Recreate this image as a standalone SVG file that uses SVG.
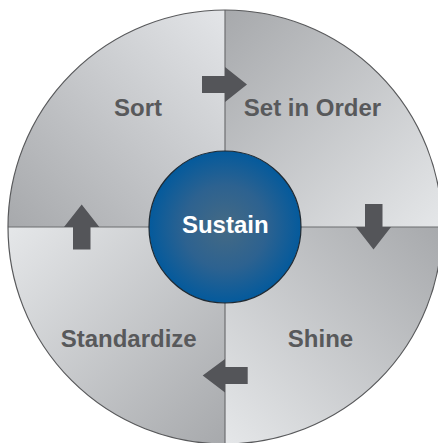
<svg xmlns="http://www.w3.org/2000/svg" width="438" height="443" viewBox="0 0 438 443">
<defs>
<linearGradient id="gSort" x1="1" y1="0" x2="0" y2="1"><stop offset="0" stop-color="#e3e5e8"/><stop offset="1" stop-color="#a7a9ac"/></linearGradient>
<linearGradient id="gSet" x1="0" y1="0" x2="1" y2="1"><stop offset="0" stop-color="#a7a9ac"/><stop offset="1" stop-color="#e5e7e9"/></linearGradient>
<linearGradient id="gShine" x1="1" y1="0" x2="0" y2="1"><stop offset="0" stop-color="#a7a9ac"/><stop offset="1" stop-color="#e5e7e9"/></linearGradient>
<linearGradient id="gStd" x1="0" y1="0" x2="1" y2="1"><stop offset="0" stop-color="#e5e7e9"/><stop offset="1" stop-color="#a7a9ac"/></linearGradient>
<radialGradient id="gHub" cx="0.5" cy="0.5" r="0.5"><stop offset="0" stop-color="#456a84"/><stop offset="0.55" stop-color="#2d6290"/><stop offset="1" stop-color="#045a9c"/></radialGradient>
<style>
.lbl{font-family:"Liberation Sans",Arial,sans-serif;font-weight:bold;font-size:24px;fill:#58595b;text-anchor:middle}
.hub{fill:#ffffff}
.arrow{fill:#545559}
.div{stroke:#6d6e71;stroke-width:1.2;fill:none}
</style>
</defs>
<g id="sort">
<path d="M225,227 L8,227 A217,217 0 0 1 225,10 Z" fill="url(#gSort)"/>
<text class="lbl" x="138" y="116">Sort</text>
</g>
<g id="set-in-order">
<path d="M225,227 L225,10 A217,217 0 0 1 442,227 Z" fill="url(#gSet)"/>
<text class="lbl" x="312.5" y="116">Set in Order</text>
</g>
<g id="shine">
<path d="M225,227 L442,227 A217,217 0 0 1 225,444 Z" fill="url(#gShine)"/>
<text class="lbl" x="320.5" y="347">Shine</text>
</g>
<g id="standardize">
<path d="M225,227 L225,444 A217,217 0 0 1 8,227 Z" fill="url(#gStd)"/>
<text class="lbl" x="128.7" y="347">Standardize</text>
</g>
<g id="frame">
<line class="div" x1="225" y1="10" x2="225" y2="444"/>
<line class="div" x1="8" y1="227" x2="442" y2="227"/>
<circle cx="225" cy="227" r="217" fill="none" stroke="#58595b" stroke-width="1.2"/>
</g>
<g id="connectors">
<polygon class="arrow" points="202,76 225,76 225,67 247,84.5 225,102 225,93 202,93"/>
<polygon class="arrow" points="365,204 382.5,204 382.5,227 391,227 373.5,249.5 356,227 365,227"/>
<polygon class="arrow" points="247.7,367 225,367 225,359 202.7,375.5 225,392.5 225,384 247.7,384"/>
<polygon class="arrow" points="73,249.5 73,227 64,227 81.7,204.5 99.3,227 90.5,227 90.5,249.5"/>
</g>
<g id="sustain">
<circle cx="225" cy="227" r="76" fill="url(#gHub)" stroke="#1f2a33" stroke-width="1.2"/>
<text class="lbl hub" x="225.3" y="232.5">Sustain</text>
</g>
</svg>
